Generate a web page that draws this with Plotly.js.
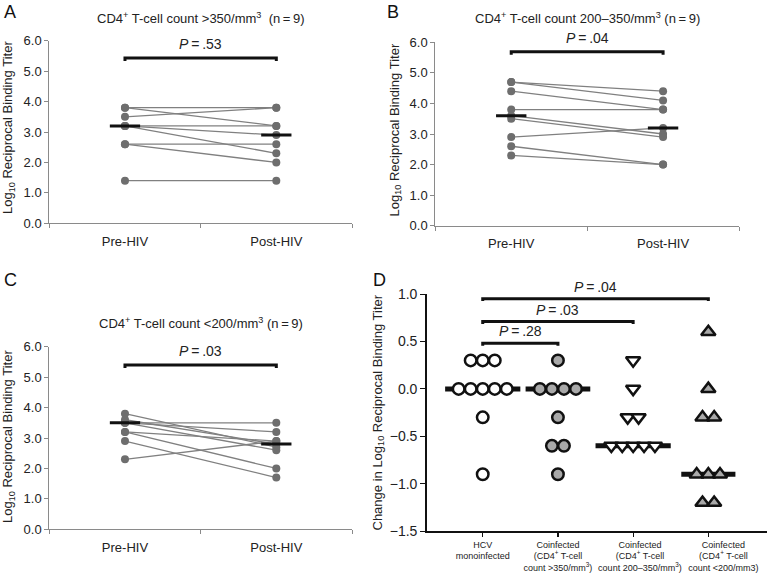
<!DOCTYPE html>
<html><head><meta charset="utf-8">
<script src="https://cdn.plot.ly/plotly-3.0.1.min.js"></script>
<style>html,body{margin:0;padding:0;background:#fff}</style>
</head><body><div id="chart" style="width:767px;height:575px"></div>
<script>
// ---------------- DATA ----------------
const timepoints = ['Pre-HIV', 'Post-HIV'];

const titleA = 'CD4<sup>+</sup> T-cell count >350/mm<sup>3</sup>\u00a0\u00a0(n\u2009=\u20099)';
const titleB = 'CD4<sup>+</sup> T-cell count 200–350/mm<sup>3</sup> (n\u2009=\u20099)';
const titleC = 'CD4<sup>+</sup> T-cell count <200/mm<sup>3</sup> (n\u2009=\u20099)';

const preA  = [3.8, 3.8, 3.5, 3.2, 3.2, 3.2, 2.6, 2.6, 1.4];
const postA = [3.8, 3.2, 3.8, 3.2, 2.3, 2.9, 2.6, 2.0, 1.4];
const pA = '.53';

const preB  = [4.7, 4.7, 4.4, 3.8, 3.6, 3.5, 2.9, 2.6, 2.3];
const postB = [4.4, 4.1, 3.8, 3.8, 3.0, 2.9, 3.2, 2.0, 2.0];
const pB = '.04';

const preC  = [3.8, 3.6, 3.5, 3.5, 3.5, 3.2, 3.2, 2.9, 2.3];
const postC = [2.7, 2.8, 3.5, 3.2, 2.6, 2.0, 2.9, 1.7, 2.9];
const pC = '.03';

const groupsD = [
  'HCV<br>monoinfected',
  'Coinfected<br>(CD4<sup>+</sup> T-cell<br>count >350/mm<sup>3</sup>)',
  'Coinfected<br>(CD4<sup>+</sup> T-cell<br>count 200–350/mm<sup>3</sup>)',
  'Coinfected<br>(CD4<sup>+</sup> T-cell<br>count <200/mm3)'
];
const hcvMono      = [0.3, 0.3, 0.3, 0.0, 0.0, 0.0, 0.0, 0.0, -0.3, -0.9];
const coinfGt350   = [0.3, 0.0, 0.0, 0.0, 0.0, -0.3, -0.6, -0.6, -0.9];
const coinf200_350 = [0.3, 0.0, -0.3, -0.3, -0.6, -0.6, -0.6, -0.6, -0.6];
const coinfLt200   = [0.6, 0.0, -0.3, -0.3, -0.9, -0.9, -0.9, -1.2, -1.2];
const pD = ['.28', '.03', '.04'];   // HCV vs group 1, 2, 3

// ---------------- HELPERS / STYLE ----------------
const W = 767, H = 575;
const px = v => v / W, py = v => 1 - v / H;
const FONT = 'Liberation Sans, Arial, sans-serif';
const GRAY_AX = '#8a8a8a';
function median(a){const s=[...a].sort((p,q)=>p-q);const m=s.length>>1;return s.length%2?s[m]:(s[m-1]+s[m])/2;}
function swarm(vals, step){
  const counts = {}, idx = {};
  vals.forEach(v => counts[v] = (counts[v]||0) + 1);
  return vals.map(v => { idx[v] = (idx[v] === undefined ? 0 : idx[v] + 1); return (idx[v] - (counts[v]-1)/2) * step; });
}
const frac = (v, r) => (v - r[0]) / (r[1] - r[0]);

const traces = [];
const annotations = [];
const layout = {
  width: W, height: H, margin: {l:0, r:0, t:0, b:0},
  paper_bgcolor: '#fff', plot_bgcolor: '#fff', showlegend: false,
  font: {family: FONT, color: '#222', size: 13}
};

const RANGE_ABC = [0, 6];
const panels = [
  {pre: preA, post: postA, p: pA, title: titleA, ax: '', xd: [49.3, 352], yd: [223.3, 40.7], bracket: 5.43, titleY: 18, ytitle: [8.5, 127.5], letter: 'A', letterXY: [2, 12]},
  {pre: preB, post: postB, p: pB, title: titleB, ax: '2', xd: [435.3, 739], yd: [225.7, 42.3], bracket: 5.69, titleY: 18.3, ytitle: [394.5, 130], letter: 'B', letterXY: [385, 12]},
  {pre: preC, post: postC, p: pC, title: titleC, ax: '3', xd: [49.3, 352], yd: [529.3, 346.7], bracket: 5.40, titleY: 323.3, ytitle: [8.5, 436.5], letter: 'C', letterXY: [2, 280]}
];

panels.forEach(P => {
  const xa = 'x' + P.ax, ya = 'y' + P.ax;
  const xs = [], ys = [];
  P.pre.forEach((v, i) => { xs.push(0, 1, null); ys.push(v, P.post[i], null); });
  traces.push({type: 'scatter', mode: 'lines+markers', x: xs, y: ys, xaxis: xa, yaxis: ya,
    line: {color: '#808080', width: 1.3}, marker: {color: '#6e6e6e', size: 8}, hoverinfo: 'skip'});
  const mPre = median(P.pre), mPost = median(P.post);
  traces.push({type: 'scatter', mode: 'lines', x: [-0.1, 0.1, null, 0.9, 1.1], y: [mPre, mPre, null, mPost, mPost],
    xaxis: xa, yaxis: ya, line: {color: '#111', width: 3}, hoverinfo: 'skip'});
  const b = P.bracket;
  traces.push({type: 'scatter', mode: 'lines', x: [0, 0, 1, 1], y: [b - 0.1, b, b, b - 0.1],
    xaxis: xa, yaxis: ya, line: {color: '#111', width: 3}, hoverinfo: 'skip', cliponaxis: false});
  annotations.push({xref: xa, yref: ya + ' domain', x: 0.5, y: frac(b + 0.45, RANGE_ABC), text: '<i>P</i>\u2009=\u2009' + P.p,
    showarrow: false, font: {size: 14, color: '#222'}, xanchor: 'center', yanchor: 'middle'});
  annotations.push({xref: 'paper', yref: 'paper', x: px((P.xd[0] + P.xd[1]) / 2), y: py(P.titleY), text: P.title,
    showarrow: false, font: {size: 13, color: '#222'}, xanchor: 'center', yanchor: 'middle'});
  annotations.push({xref: 'paper', yref: 'paper', x: px(P.ytitle[0]), y: py(P.ytitle[1]), textangle: -90,
    text: 'Log<sub>10</sub> Reciprocal Binding Titer', showarrow: false, font: {size: 13, color: '#222'},
    xanchor: 'center', yanchor: 'middle'});
  annotations.push({xref: 'paper', yref: 'paper', x: px(P.letterXY[0]), y: py(P.letterXY[1]), text: P.letter,
    showarrow: false, font: {size: 18, color: '#111'}, xanchor: 'left', yanchor: 'middle'});
  layout['xaxis' + P.ax] = {domain: [px(P.xd[0]), px(P.xd[1])], anchor: ya, range: [-0.5, 1.5],
    tickvals: [0, 1], ticktext: timepoints, ticks: 'outside', ticklen: 6, tickcolor: 'rgba(0,0,0,0)',
    showline: true, linecolor: GRAY_AX, linewidth: 1, showgrid: false, zeroline: false,
    tickfont: {size: 13, color: '#222'}, tickangle: 0,
    minor: {tickvals: [-0.5, 0.5, 1.5], ticks: 'outside', ticklen: 4, tickcolor: GRAY_AX, showgrid: false},
    fixedrange: true};
  layout['yaxis' + P.ax] = {domain: [py(P.yd[0]), py(P.yd[1])], anchor: xa, range: RANGE_ABC, tick0: 0, dtick: 1,
    tickformat: '.1f', ticks: 'outside', ticklen: 4, tickcolor: GRAY_AX, showline: true, linecolor: GRAY_AX,
    linewidth: 1, showgrid: false, zeroline: false, tickfont: {size: 13, color: '#222'}, fixedrange: true};
});

// ---------------- PANEL D ----------------
const RANGE_D = [-1.5, 1.0];
const dGroups = [
  {vals: hcvMono,      symbol: 'circle',        fill: '#ffffff', step: 0.16, half: 0.50, size: 11.5, labelShift: 0},
  {vals: coinfGt350,   symbol: 'circle',        fill: '#a9a9a9', step: 0.16, half: 0.43, size: 11.5, labelShift: 0},
  {vals: coinf200_350, symbol: 'triangle-down', fill: '#ffffff', step: 0.145, half: 0.50, size: 12.5, labelShift: 0.09},
  {vals: coinfLt200,   symbol: 'triangle-up',   fill: '#a9a9a9', step: 0.155, half: 0.36, size: 12.5, labelShift: 0.2}
];
dGroups.forEach((g, k) => {
  const m = median(g.vals);
  traces.push({type: 'scatter', mode: 'lines', x: [k - g.half, k + g.half], y: [m, m], xaxis: 'x4', yaxis: 'y4',
    line: {color: '#111', width: 5}, hoverinfo: 'skip'});
});
dGroups.forEach((g, k) => {
  const off = swarm(g.vals, g.step);
  traces.push({type: 'scatter', mode: 'markers', x: g.vals.map((v, i) => k + off[i]), y: g.vals,
    xaxis: 'x4', yaxis: 'y4', cliponaxis: false,
    marker: {symbol: g.symbol, size: g.size, color: g.fill, line: {color: '#111', width: 2.5}}, hoverinfo: 'skip'});
});
const dBracketY = [0.48, 0.71, 0.95];
pD.forEach((p, j) => {
  const k = j + 1, b = dBracketY[j];
  traces.push({type: 'scatter', mode: 'lines', x: [0, 0, k, k], y: [b - 0.025, b, b, b - 0.025],
    xaxis: 'x4', yaxis: 'y4', cliponaxis: false, line: {color: '#111', width: 3}, hoverinfo: 'skip'});
  annotations.push({xref: 'x4', yref: 'y4 domain', x: k / 2, y: frac(b + 0.125, RANGE_D), text: '<i>P</i>\u2009=\u2009' + p,
    showarrow: false, font: {size: 14, color: '#222'}, xanchor: 'center', yanchor: 'middle'});
});
annotations.push({xref: 'paper', yref: 'paper', x: px(378), y: py(412.5), textangle: -90,
  text: 'Change in Log<sub>10</sub> Reciprocal Binding Titer', showarrow: false, font: {size: 13, color: '#222'},
  xanchor: 'center', yanchor: 'middle'});
annotations.push({xref: 'paper', yref: 'paper', x: px(371), y: py(280), text: 'D',
  showarrow: false, font: {size: 18, color: '#111'}, xanchor: 'left', yanchor: 'middle'});

layout.xaxis4 = {domain: [px(426.7), 1], anchor: 'y4', range: [-0.745, 3.78],
  tickvals: groupsD.map((_, k) => k + dGroups[k].labelShift), ticktext: groupsD,
  ticks: 'outside', ticklen: 4, tickcolor: 'rgba(0,0,0,0)', showline: true, linecolor: '#111',
  linewidth: 1.5, showgrid: false, zeroline: false, tickangle: 0, tickfont: {size: 9, color: '#222'},
  minor: {tickvals: groupsD.map((_, k) => k), ticks: 'outside', ticklen: 4, tickcolor: '#111', tickwidth: 1.2, showgrid: false},
  fixedrange: true};
layout.yaxis4 = {domain: [py(531.2), py(294)], anchor: 'x4', range: RANGE_D, tick0: 0, dtick: 0.5,
  tickformat: '.1f', ticks: 'outside', ticklen: 5, tickcolor: '#111', showline: true, linecolor: '#111',
  linewidth: 1.5, showgrid: false, zeroline: false, tickfont: {size: 14, color: '#222'}, fixedrange: true};

layout.annotations = annotations;
Plotly.newPlot('chart', traces, layout, {staticPlot: true, displayModeBar: false});
</script>
</body></html>
